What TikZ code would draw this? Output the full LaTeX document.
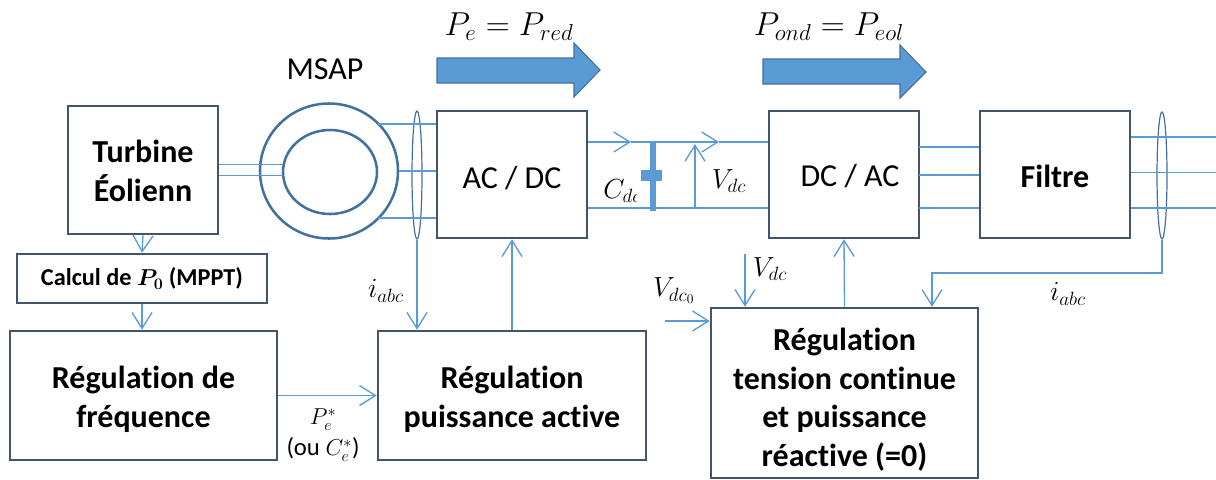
\documentclass[tikz,border=0pt]{standalone}
\usepackage{amsmath,amssymb}
\usepackage{fontspec}
\setmainfont[Ligatures=NoCommon]{Carlito}
\usepackage{xcolor}
\usetikzlibrary{arrows.meta,calc,shapes.geometric}
\definecolor{cadre}{HTML}{44546A}
\definecolor{fil}{HTML}{5B9BD5}
\definecolor{anneau}{HTML}{41719C}
\def\px{0.75pt}

\begin{document}
\begin{tikzpicture}[x=0.75pt,y=-0.75pt,>={Straight Barb[length=12pt,width=15pt]}]
\tikzstyle{bloc}=[rectangle,draw=cadre,line width=1.9pt,inner sep=0pt,align=center,font=\fontsize{24}{29}\selectfont]
\tikzstyle{titre}=[bloc,font=\fontsize{24}{29}\selectfont\bfseries]
\tikzstyle{liaison}=[draw=fil,line width=1pt]
\tikzstyle{bobine}=[ellipse,draw=anneau,line width=.9pt,inner sep=0pt]
\tikzstyle{machine}=[ellipse,draw=anneau,line width=1.9pt,inner sep=0pt]
\tikzstyle{fleche}=[draw=anneau,fill=fil,line width=.8pt]
\tikzstyle{lbl}=[inner sep=0pt,font=\fontsize{20}{24}\selectfont]
\useasboundingbox (0,0) rectangle (1216,479);
% blocs
\node[titre,minimum width=150*\px,minimum height=128*\px] (turbine) at (143,170) {\rule{0pt}{18pt}Turbine\\Éolienn};
\node[bloc,minimum width=250*\px,minimum height=49*\px,font=\fontsize{18.2}{22}\selectfont\bfseries] (calcul) at (142,278.5) {Calcul de $\boldsymbol{P_0}$ (MPPT)};
\node[titre,minimum width=267*\px,minimum height=129*\px] (regfreq) at (143.5,395.5) {\rule{0pt}{23pt}Régulation de\\fréquence};
\node[titre,minimum width=268*\px,minimum height=129*\px] (regpuis) at (512,395.5) {\rule{0pt}{23pt}Régulation\\puissance active};
\node[bloc,minimum width=150*\px,minimum height=127*\px] (acdc) at (512,174.5) {\rule{0pt}{22pt}AC / DC};
\node[bloc,minimum width=150*\px,minimum height=127*\px] (dcac) at (844,174.5) {\rule{0pt}{19.5pt}\hspace*{9pt}DC / AC};
\node[titre,minimum width=150*\px,minimum height=127*\px] (filtre) at (1055,174.5) {\rule{0pt}{20pt}Filtre};
\node[titre,minimum width=267*\px,minimum height=170*\px] (regtens) at (844.5,393) {\rule{0pt}{27pt}Régulation\\tension continue\\et puissance\\réactive (=0)};
% machine
\node[machine,minimum width=138*\px,minimum height=135*\px] (stator) at (329,171) {};
\node[machine,minimum width=94*\px,minimum height=84*\px] (rotor) at (330,172) {};
\node[bobine,minimum width=10*\px,minimum height=128*\px] (tore) at (417,175) {};
\node[bobine,minimum width=10*\px,minimum height=127*\px] (toreb) at (1162,175.5) {};
\node[inner sep=0pt,font=\fontsize{24}{29}\selectfont] (msap) at (325,69) {MSAP};
% fleches de puissance
\draw[fleche] (437,58) -- (574,58) -- (574,43) -- (600,70) -- (574,97) -- (574,83) -- (437,83) -- cycle;
\draw[fleche] (763,59) -- (900,59) -- (900,45) -- (926,72) -- (900,98) -- (900,84) -- (763,84) -- cycle;
\node[inner sep=0pt,font=\fontsize{25}{30}\selectfont] (pred) at (509,27) {$P_e=P_{red}$};
\node[inner sep=0pt,font=\fontsize{25}{30}\selectfont] (peol) at (829,27) {$P_{ond}=P_{eol}$};
% liaisons
\coordinate (m1) at (283,164.5);
\coordinate (m2) at (283,175.5);
\draw[liaison] (m1-|turbine.east) -- (m1);
\draw[liaison] (m2-|turbine.east) -- (m2);
\coordinate (s1) at (378,124);
\coordinate (s2) at (378,218);
\draw[liaison] (s1) -- (s1-|acdc.west);
\draw[liaison] (stator.east) -- (stator.east-|acdc.west);
\draw[liaison] (s2) -- (s2-|acdc.west);
\draw[liaison,->] (turbine.south) -- (calcul.north);
\draw[liaison,->] (calcul.south) -- (regfreq.north-|calcul.south);
\draw[liaison,->] (tore.south) -- (tore.south|-regpuis.north);
\draw[liaison,->] (regpuis.north) -- (acdc.south);
\draw[liaison,->] (regfreq.east) -- (regpuis.west);
% bus continu
\coordinate (h1) at (631,142);
\coordinate (h2) at (719,142);
\coordinate (b1) at (695,208);
\coordinate (h3) at (695,144);
\draw[liaison,->] (h1-|acdc.east) -- (h1);
\draw[liaison,->] (h1) -- (h2);
\draw[liaison] (h2) -- (h2-|dcac.west);
\draw[liaison] (b1-|acdc.east) -- (b1-|dcac.west);
\draw[liaison,->] (b1) -- (h3);
\fill[fil] (650,143) rectangle (656,211);
\fill[fil] (641,170) rectangle (662,181);
\begin{scope}
\clip (596,165) rectangle (636,215);
\node[lbl,font=\fontsize{21}{25}\selectfont,anchor=west] (cdc) at (603,191) {$C_{dc}$};
\end{scope}
\node[lbl] (vdc) at (729,181) {$V_{dc}$};
% onduleur
\coordinate (c1) at (919,147);
\coordinate (c2) at (919,175);
\coordinate (c3) at (919,208);
\draw[liaison] (c1) -- (c1-|filtre.west);
\draw[liaison] (c2) -- (c2-|filtre.west);
\draw[liaison] (c3) -- (c3-|filtre.west);
\coordinate (r1) at (1216,137);
\coordinate (r2) at (1216,172.5);
\coordinate (r3) at (1216,208);
\draw[liaison] (r1-|filtre.east) -- (r1);
\draw[liaison] (r2-|filtre.east) -- (r2);
\draw[liaison] (r3-|filtre.east) -- (r3);
% regulation
\coordinate (retour) at (932,273);
\draw[liaison,->] (toreb.south) |- (retour) -- (retour|-regtens.north);
\coordinate (vd) at (745,254);
\coordinate (vz) at (665,321);
\draw[liaison,->] (vd) -- (vd|-regtens.north);
\draw[liaison,->] (vz) -- (vz-|regtens.west);
\draw[liaison,->] (regtens.north) -- (dcac.south);
% etiquettes
\node[lbl] (i1) at (386,291) {$i_{abc}$};
\node[lbl] (i2) at (1068,294) {$i_{abc}$};
\node[lbl] (v1) at (770,269) {$V_{dc}$};
\node[lbl] (v2) at (674,291) {$V_{dc_0}$};
\node[lbl,align=center,font=\fontsize{18.5}{23}\selectfont] (pe) at (323,435) {$P_e^*$\\(ou $C_e^*$)};
\end{tikzpicture}
\end{document}
